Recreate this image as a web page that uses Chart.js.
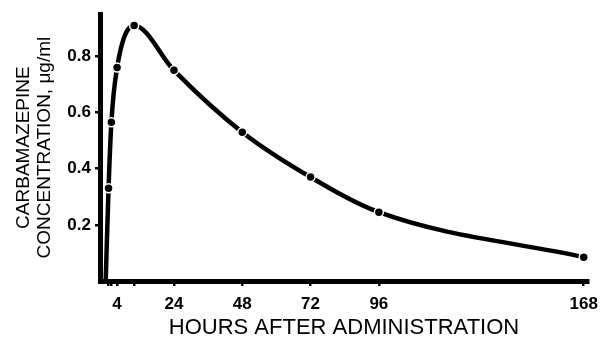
<!DOCTYPE html>
<html>
<head>
<meta charset="utf-8">
<script src="https://cdn.jsdelivr.net/npm/chart.js@4"></script>
<style>
  body { margin: 0; background: #fff; }
  #box { width: 606px; height: 339px; }
</style>
</head>
<body>
<div id="box"><canvas id="concChart"></canvas></div>
<script>
// hours after dose and measured concentration (ug/ml)
const hours = [0, 1, 2, 4, 10, 24, 48, 72, 96, 168];
const concentration = [0, 0.33, 0.565, 0.76, 0.91, 0.75, 0.53, 0.37, 0.245, 0.085];
const xTickHours = [1, 2, 4, 10, 24, 48, 72, 96, 168];
const xLabelHours = [4, 24, 48, 72, 96, 168];
const yTickValues = [0.2, 0.4, 0.6, 0.8];

const points = hours.map((h, i) => ({ x: h, y: concentration[i] }));
const font = "'Liberation Sans', Arial, Helvetica, sans-serif";

const ctx = document.getElementById("concChart").getContext("2d");

new Chart(ctx, {
  type: "line",
  data: {
    datasets: [
      {
        data: points,
        borderColor: "#000",
        borderWidth: 4.5,
        cubicInterpolationMode: "monotone",
        pointRadius: hours.map((h) => (h === 0 ? 0 : 4.5)),
        pointBackgroundColor: "#000",
        pointBorderColor: "#fff",
        pointBorderWidth: 1.5,
        clip: false,
      },
    ],
  },
  options: {
    responsive: true,
    maintainAspectRatio: false,
    animation: false,
    layout: {
      padding: { top: 12, right: 11, left: 0, bottom: 0 },
    },
    plugins: {
      legend: { display: false },
      tooltip: { enabled: false },
    },
    scales: {
      x: {
        type: "linear",
        min: -2,
        max: 169.5,
        afterFit: (scale) => {
          scale.height = 58;
        },
        afterBuildTicks: (scale) => {
          scale.ticks = xTickHours.map((v) => ({ value: v }));
        },
        border: { display: true, color: "#000", width: 5 },
        grid: {
          drawOnChartArea: false,
          drawTicks: true,
          tickLength: 5,
          color: "#000",
          lineWidth: 2.5,
        },
        ticks: {
          color: "#000",
          padding: 8,
          maxRotation: 0,
          autoSkip: false,
          font: { family: font, size: 17, weight: "bold" },
          callback: (value) => (xLabelHours.includes(value) ? String(value) : ""),
        },
        title: {
          display: true,
          text: "HOURS AFTER ADMINISTRATION",
          color: "#000",
          padding: { top: 0, bottom: 0 },
          font: { family: font, size: 22, lineHeight: 1.0 },
        },
      },
      y: {
        min: 0,
        max: 0.95,
        afterFit: (scale) => {
          scale.width = 100;
        },
        afterBuildTicks: (scale) => {
          scale.ticks = yTickValues.map((v) => ({ value: v }));
        },
        border: { display: true, color: "#000", width: 5 },
        grid: {
          drawOnChartArea: false,
          drawTicks: true,
          tickLength: 5,
          color: "#000",
          lineWidth: 2.5,
        },
        ticks: {
          color: "#000",
          padding: 4,
          font: { family: font, size: 17, weight: "bold" },
          callback: (value) => value.toFixed(1),
        },
        title: {
          display: true,
          text: ["CARBAMAZEPINE", "CONCENTRATION, \u03BCg/ml"],
          color: "#000",
          padding: { top: 13, bottom: 0 },
          font: { family: font, size: 19, lineHeight: 1.1 },
        },
      },
    },
  },
});
</script>
</body>
</html>
